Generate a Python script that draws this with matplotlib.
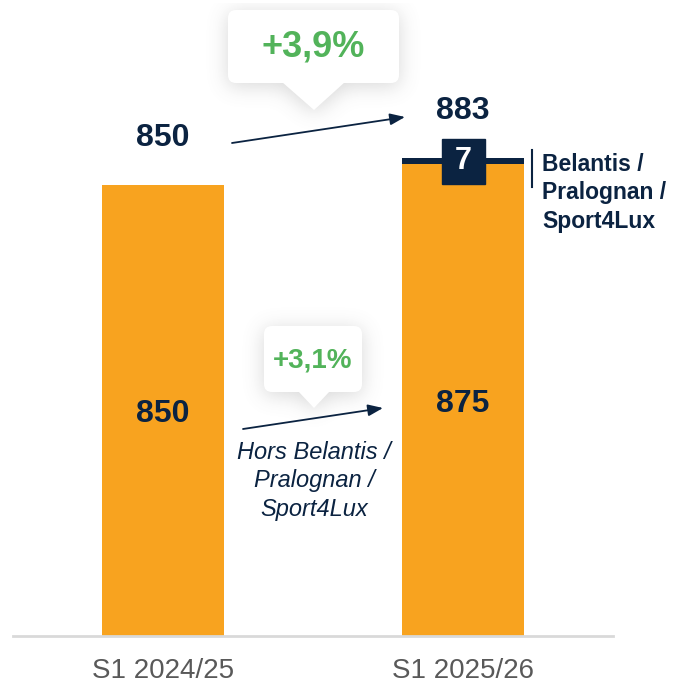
"""Bar chart: S1 revenue 2024/25 vs 2025/26 with scope effect and growth callouts."""
import numpy as np
import matplotlib; matplotlib.use("Agg")
import matplotlib.pyplot as plt
from matplotlib.patches import FancyBboxPatch, Polygon, Rectangle
from matplotlib.path import Path

plt.rcParams["font.family"] = ["Liberation Sans", "DejaVu Sans"]

# data
periods = ["S1 2024/25", "S1 2025/26"]
organic = [850, 875]          # hors Belantis / Pralognan / Sport4Lux
scope = [0, 7]                # Belantis / Pralognan / Sport4Lux
totals = [850, 883]
growth_total = "+3,9%"
growth_organic = "+3,1%"
scope_label = "Belantis /\nPralognan /\nSport4Lux"
organic_label = "Hors Belantis /\nPralognan /\nSport4Lux"

ORANGE = "#F8A31F"
NAVY = "#0B2341"
GREEN = "#52B35A"
GREY = "#595959"

W, H = 674, 686
fig = plt.figure(figsize=(W / 100, H / 100), dpi=100)
ax = fig.add_axes([13 / W, 50 / H, 600 / W, 636 / H])
x = np.arange(len(periods))
ax.bar(x, organic, width=0.405, color=ORANGE, zorder=2)
ax.bar(x, scope, bottom=organic, width=0.405, color=NAVY, zorder=2)
ax.set_xlim(-0.5, 1.5)
ax.set_ylim(300, 1075)
for s in ["top", "left", "right"]:
    ax.spines[s].set_visible(False)
ax.spines["bottom"].set_color("#D9D9D9")
ax.spines["bottom"].set_linewidth(2)
ax.set_yticks([])
ax.set_xticks(x, periods)
ax.tick_params(axis="x", length=0, pad=16, labelsize=20, labelcolor=GREY)

# values
for i in x:
    ax.annotate(f"{organic[i]}", (i, (300 + organic[i]) / 2), xytext=(0, -8.6),
                textcoords="offset points", ha="center", va="baseline",
                fontsize=23, fontweight="bold", color=NAVY, zorder=3)
    ax.annotate(f"{totals[i]}", (i, organic[i] + scope[i]), xytext=(0, 28),
                textcoords="offset points", ha="center", va="baseline",
                fontsize=23, fontweight="bold", color=NAVY)

# overlay in pixel coords (origin bottom-left)
ov = fig.add_axes([0, 0, 1, 1], zorder=5)
ov.set_xlim(0, W); ov.set_ylim(0, H); ov.axis("off")
ov.patch.set_alpha(0)

fig.canvas.draw()
tr = ax.transData
cx, cy = tr.transform((1, organic[1] + scope[1] / 2))
ov.add_patch(Rectangle((cx - 21.5, cy - 22.5), 43, 45, color=NAVY, zorder=4))
ov.text(cx, cy, f"{scope[1]}", ha="center", va="center", color="white",
        fontsize=22, fontweight="bold", zorder=5)
ov.plot([532, 532], [H - 150, H - 187], color=NAVY, lw=1.5)
ov.text(542, H - 193, scope_label, ha="left", va="center", color=NAVY,
        fontsize=16.5, fontweight="bold", linespacing=1.33)


def callout(x0, x1, y0, y1, bx0, bx1, tip, text, size):
    # coordinates given top-based, converted here
    yy0, yy1 = H - y1, H - y0
    tipx, tipy = tip[0], H - tip[1]
    # soft shadow
    gx, gy = np.meshgrid(np.arange(W) + 0.5, np.arange(H) + 0.5)
    pts = np.column_stack([gx.ravel(), gy.ravel()])
    box = Path([(x0, yy0), (x1, yy0), (x1, yy1), (x0, yy1)])
    tri = Path([(bx0, yy0), (bx1, yy0), (tipx, tipy)])
    m = (box.contains_points(pts) | tri.contains_points(pts)).reshape(H, W).astype(float)
    k = np.exp(-0.5 * (np.arange(-30, 31) / 10.0) ** 2); k /= k.sum()
    m = np.apply_along_axis(lambda r: np.convolve(r, k, mode="same"), 1, m)
    m = np.apply_along_axis(lambda c: np.convolve(c, k, mode="same"), 0, m)
    m = np.roll(m, -3, axis=0)
    rgba = np.zeros((H, W, 4)); rgba[..., :3] = 0.45; rgba[..., 3] = 0.28 * m
    ov.imshow(rgba, extent=(0, W, 0, H), origin="lower", zorder=1, interpolation="bilinear")
    ov.add_patch(FancyBboxPatch((x0 + 8, yy0 + 8), x1 - x0 - 16, yy1 - yy0 - 16,
                                boxstyle="round,pad=8", fc="white", ec="none", zorder=2))
    ov.add_patch(Polygon([(bx0, yy0 + 1), (bx1, yy0 + 1), (tipx, tipy)],
                         closed=True, fc="white", ec="none", zorder=2))
    ov.text((x0 + x1) / 2, (yy0 + yy1) / 2 - 1, text, ha="center", va="center",
            color=GREEN, fontsize=size, fontweight="bold", zorder=3)


callout(228, 399, 10, 83, 282, 345, (314, 110), growth_total, 26)
callout(264, 362, 326, 392, 298, 330, (314, 408), growth_organic, 20)
ov.set_xlim(0, W); ov.set_ylim(0, H)

arrow = dict(arrowstyle="-|>,head_length=0.9,head_width=0.35", color=NAVY, lw=1.3,
             shrinkA=0, shrinkB=0)
ov.annotate("", xy=(405, H - 117), xytext=(232, H - 143), arrowprops=arrow, zorder=4)
ov.annotate("", xy=(383, H - 408), xytext=(243, H - 429), arrowprops=arrow, zorder=4)

ov.text(314, H - 481, organic_label, ha="center", va="center", color=NAVY,
        fontsize=17, fontstyle="italic", linespacing=1.3)

fig.savefig("out.png", dpi=100)
